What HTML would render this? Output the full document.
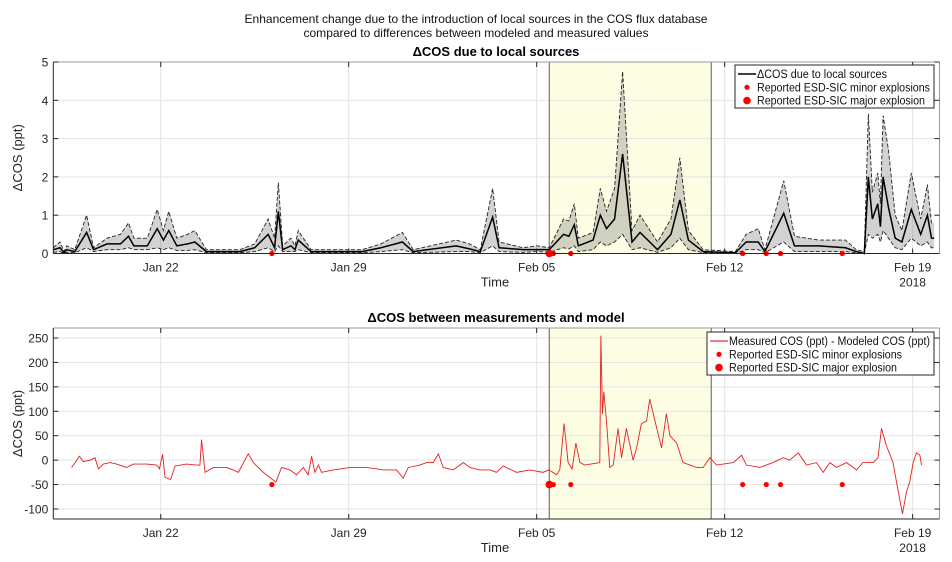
<!DOCTYPE html>
<html><head><meta charset="utf-8">
<style>
html,body{margin:0;padding:0;background:#fff;}
svg{display:block;font-family:"Liberation Sans",Arial,sans-serif;}
</style></head>
<body>
<svg id="chart" width="952" height="562" viewBox="0 0 952 562">
<text x="476" y="23" text-anchor="middle" font-size="12" textLength="463" lengthAdjust="spacingAndGlyphs" fill="#111">Enhancement change due to the introduction of local sources in the COS flux database</text>
<text x="476" y="37" text-anchor="middle" font-size="12" textLength="345" lengthAdjust="spacingAndGlyphs" fill="#111">compared to differences between modeled and measured values</text>
<g id="top"></g>
<g id="bot"></g>
</svg>
<script>
// ---- shared data ----
const xTickDays = [4, 11, 18, 25, 32];
const xTickLabels = ["Jan 22", "Jan 29", "Feb 05", "Feb 12", "Feb 19"];
const highlightSpan = [18.47, 24.5];
const minorDays = [8.14, 18.55, 18.62, 19.27, 25.67, 26.55, 27.08, 29.38];
const majorDays = [18.47];

// ---- top chart data ----
const topDays = [0,0.25,0.4,0.5,0.8,1.24,1.5,2.0,2.5,2.8,3.0,3.5,3.87,4.1,4.3,4.6,5.0,5.27,5.7,6.95,7.5,8.0,8.24,8.38,8.54,8.85,9.0,9.12,9.6,11.5,12.2,13.0,13.4,15.0,15.5,15.9,16.36,16.6,17.5,18.0,18.47,19.0,19.2,19.4,19.55,20.1,20.37,20.6,20.9,21.2,21.55,21.85,22.5,23.0,23.33,23.65,24.2,25.4,25.8,26.25,26.5,27.2,27.6,28.5,29.5,29.9,30.2,30.35,30.5,30.7,30.8,30.9,31.1,31.35,31.6,31.95,32.3,32.55,32.7,32.8];
const topMean = [0.1,0.15,0.02,0.1,0.05,0.55,0.1,0.25,0.25,0.45,0.2,0.2,0.65,0.35,0.6,0.2,0.25,0.3,0.05,0.05,0.15,0.5,0.15,1.1,0.1,0.2,0.1,0.35,0.05,0.05,0.15,0.3,0.05,0.2,0.12,0.05,0.95,0.15,0.1,0.1,0.1,0.5,0.45,0.75,0.2,0.35,1.0,0.65,0.9,2.6,0.3,0.55,0.1,0.5,1.4,0.35,0.05,0.02,0.3,0.3,0.05,1.05,0.2,0.2,0.15,0.05,0.0,2.0,0.9,1.3,0.7,2.0,1.2,0.4,0.3,1.15,0.5,1.0,0.4,0.4];
const topUpper = [0.15,0.3,0.05,0.2,0.1,1.0,0.15,0.4,0.5,0.8,0.4,0.4,1.15,0.6,1.1,0.4,0.5,0.6,0.1,0.1,0.25,0.9,0.4,1.85,0.2,0.4,0.2,0.6,0.1,0.1,0.25,0.55,0.1,0.35,0.25,0.1,1.7,0.3,0.15,0.2,0.15,0.9,0.85,1.3,0.4,0.55,1.7,1.1,1.7,4.75,0.6,1.0,0.3,0.9,2.5,0.6,0.1,0.05,0.5,0.65,0.1,1.9,0.45,0.35,0.35,0.1,0.05,3.65,1.6,2.1,1.3,3.6,2.7,1.0,0.6,2.1,0.9,1.8,0.8,0.8];
const topLower = [0.03,0.05,0,0.03,0.02,0.15,0.05,0.1,0.1,0.15,0.1,0.1,0.15,0.1,0.15,0.08,0.08,0.1,0.02,0.02,0.05,0.15,0.05,0.2,0.05,0.05,0.05,0.1,0.02,0.02,0.05,0.1,0.02,0.05,0.05,0.02,0.2,0.05,0.03,0.05,0.03,0.15,0.12,0.2,0.05,0.1,0.3,0.2,0.3,0.5,0.1,0.15,0.03,0.15,0.4,0.1,0.02,0,0.1,0.1,0.02,0.3,0.05,0.05,0.05,0.02,0,0.5,0.4,0.5,0.3,0.6,0.4,0.15,0.1,0.4,0.2,0.3,0.15,0.15];
const topYTicks = [0,1,2,3,4,5];

// ---- bottom chart data ----
const botDays = [0.68,0.81,0.97,1.12,1.37,1.55,1.68,1.86,2.11,2.36,2.73,2.98,3.48,3.85,3.95,4.07,4.16,4.37,4.53,4.96,5.34,5.46,5.52,5.65,5.96,6.45,6.70,6.89,7.26,7.45,7.82,8.29,8.50,8.81,9.06,9.31,9.49,9.62,9.74,9.87,9.99,10.43,11.05,11.67,12.29,12.78,13.03,13.22,13.65,13.90,14.15,14.34,14.52,14.89,15.27,15.51,15.88,16.26,16.50,16.75,17.25,17.74,18.24,18.46,18.74,18.86,19.02,19.17,19.32,19.46,19.61,19.79,20.35,20.39,20.45,20.50,20.60,20.72,20.85,21.03,21.16,21.34,21.59,21.72,21.90,22.09,22.21,22.34,22.65,22.83,22.96,23.21,23.45,23.95,24.20,24.45,24.70,25.32,25.63,25.81,26.31,26.80,27.18,27.42,27.74,28.05,28.42,28.67,28.92,29.16,29.54,29.91,30.15,30.53,30.71,30.84,31.02,31.27,31.40,31.62,31.77,31.89,32.02,32.14,32.27,32.33];
const botDiff = [-15,-5,8,-3,0,5,-18,-8,-5,-8,-15,-8,-8,-10,-18,12,-35,-40,-12,-8,-10,-10,42,-25,-15,-15,-20,-25,13,-5,-25,-45,-15,-20,-30,-15,-30,8,-25,-10,-25,-20,-15,-15,-20,-20,-37,-15,-10,-5,-5,13,-15,-20,-5,-15,-20,-20,-25,-12,-25,-20,-25,-20,-30,-20,75,-5,-18,35,-5,-10,-5,255,95,140,80,-15,-10,65,5,65,0,25,75,80,125,95,25,95,50,35,-5,-15,-15,5,-10,-5,10,-10,-15,-5,5,0,15,-10,-5,-25,-5,-15,-5,-20,-5,-5,5,65,30,-5,-45,-110,-65,-45,-5,15,10,-10];
const botYTicks = [-100,-50,0,50,100,150,200,250];
const markerLevelBot = -50;

const NS = "http://www.w3.org/2000/svg";
function mk(parent, tag, attrs) {
  const e = document.createElementNS(NS, tag);
  for (const k in attrs) e.setAttribute(k, attrs[k]);
  parent.appendChild(e);
  return e;
}
const X0 = 53.3, X1 = 939.5, DMAX = 33;
const xs = d => X0 + d / DMAX * (X1 - X0);

function axes(g, cfg) {
  const {top, bottom, ymin, ymax, yticks} = cfg;
  const ys = v => bottom - (v - ymin) / (ymax - ymin) * (bottom - top);
  const hl = mk(g, "rect", {x: xs(highlightSpan[0]), y: top, width: xs(highlightSpan[1]) - xs(highlightSpan[0]), height: bottom - top, fill: "#fdfde3"});
  
  
  yticks.forEach(v => {
    const l = mk(g, "line", {x1: X0, x2: X1, y1: ys(v), y2: ys(v), stroke: "#e3e3e3", "stroke-width": 1});
    
    
  });
  xTickDays.forEach(d => {
    const l = mk(g, "line", {x1: xs(d), x2: xs(d), y1: top, y2: bottom, stroke: "#e3e3e3", "stroke-width": 1});
    
    
  });
  highlightSpan.forEach(d => {
    const l = mk(g, "line", {x1: xs(d), x2: xs(d), y1: top, y2: bottom, stroke: "#777", "stroke-width": 1.2});
    
    
  });
  return ys;
}
function frame(g, cfg, ys) {
  const {top, bottom, yticks, title, titleY} = cfg;
  mk(g, "line", {x1: X0, x2: X1, y1: top, y2: top, stroke: "#999", "stroke-width": 1});
  mk(g, "line", {x1: X1, x2: X1, y1: top, y2: bottom, stroke: "#999", "stroke-width": 1});
  mk(g, "line", {x1: X0, x2: X0, y1: top, y2: bottom, stroke: "#262626", "stroke-width": 1});
  mk(g, "line", {x1: X0, x2: X1, y1: bottom, y2: bottom, stroke: "#262626", "stroke-width": 1});
  yticks.forEach(v => {
    mk(g, "line", {x1: X0, x2: X0 + 5, y1: ys(v), y2: ys(v), stroke: "#262626"});
    mk(g, "line", {x1: X1, x2: X1 - 5, y1: ys(v), y2: ys(v), stroke: "#262626"});
    const t = mk(g, "text", {x: X0 - 5, y: ys(v) + 4.5, "text-anchor": "end", "font-size": 12, fill: "#262626"});
    t.textContent = v;
    
    
  });
  xTickDays.forEach((d, i) => {
    mk(g, "line", {x1: xs(d), x2: xs(d), y1: bottom, y2: bottom - 5, stroke: "#262626"});
    mk(g, "line", {x1: xs(d), x2: xs(d), y1: top, y2: top + 5, stroke: "#262626"});
    const t = mk(g, "text", {x: xs(d), y: bottom + 18, "text-anchor": "middle", "font-size": 12, fill: "#262626"});
    t.textContent = xTickLabels[i];
    
    
  });
  const yr = mk(g, "text", {x: xs(32), y: bottom + 33, "text-anchor": "middle", "font-size": 12, fill: "#262626"});
  yr.textContent = "2018";
  
  
  const xt = mk(g, "text", {x: 495, y: bottom + 33, "text-anchor": "middle", "font-size": 13, fill: "#262626"});
  xt.textContent = "Time";
  
  
  const yc = (top + bottom) / 2;
  const yt = mk(g, "text", {x: 22, y: yc, "text-anchor": "middle", "font-size": 13, fill: "#262626", transform: `rotate(-90 22 ${yc})`});
  yt.textContent = "ΔCOS (ppt)";
  
  
  const tt = mk(g, "text", {x: 496, y: titleY, "text-anchor": "middle", "font-size": 13, "font-weight": "bold", fill: "#000"});
  tt.textContent = title;
  
  
}
function legend(g, x, y, w, entries) {
  const box = mk(g, "rect", {x: x, y: y, width: w, height: 43, fill: "#fff", stroke: "#262626", "stroke-width": 1});
  
  
  entries.forEach((e, i) => {
    const cy = y + 9 + i * 13.3;
    if (e.type === "line") mk(g, "line", {x1: x + 3, x2: x + 21, y1: cy, y2: cy, stroke: e.color, "stroke-width": e.w});
    else mk(g, "circle", {cx: x + 12, cy: cy, r: e.r, fill: "#f00"});
    const t = mk(g, "text", {x: x + 22, y: cy + 4, "font-size": 11.5, fill: "#111", textLength: e.len, lengthAdjust: "spacingAndGlyphs"});
    t.textContent = e.label;
    
    
  });
}
function markers(g, ys, level) {
  minorDays.forEach(d => {
    const c = mk(g, "circle", {cx: xs(d), cy: ys(level), r: 2.6, fill: "#f00"});
    
    
  });
  majorDays.forEach(d => {
    const c = mk(g, "circle", {cx: xs(d), cy: ys(level), r: 3.8, fill: "#f00"});
    
    
  });
}

// ---- top chart ----
const gt = document.getElementById("top");
const topCfg = {top: 62, bottom: 253.5, ymin: 0, ymax: 5, yticks: topYTicks, title: "ΔCOS due to local sources", titleY: 56};
const yT = axes(gt, topCfg);
let band = "M" + topDays.map((d, i) => xs(d) + "," + yT(topUpper[i])).join(" L");
for (let i = topDays.length - 1; i >= 0; i--) band += " L" + xs(topDays[i]) + "," + yT(topLower[i]);
const bp = mk(gt, "path", {d: band + " Z", fill: "#7f7f7f", "fill-opacity": 0.35, stroke: "none"});


[topUpper, topLower].forEach(arr => {
  const p = mk(gt, "path", {d: "M" + topDays.map((d, i) => xs(d) + "," + yT(arr[i])).join(" L"), fill: "none", stroke: "#222", "stroke-width": 0.9, "stroke-dasharray": "4,2"});
  
  
});
const mp = mk(gt, "path", {d: "M" + topDays.map((d, i) => xs(d) + "," + yT(topMean[i])).join(" L"), fill: "none", stroke: "#000", "stroke-width": 1.5});


markers(gt, yT, 0);
frame(gt, topCfg, yT);
legend(gt, 735, 65, 199, [
  {type: "line", color: "#000", w: 1.5, label: "ΔCOS due to local sources", len: 130},
  {type: "dot", r: 2.6, label: "Reported ESD-SIC minor explosions", len: 173},
  {type: "dot", r: 3.8, label: "Reported ESD-SIC major explosion", len: 168}]);

// ---- bottom chart ----
const gb = document.getElementById("bot");
const botCfg = {top: 328, bottom: 519, ymin: -120.5, ymax: 270.5, yticks: botYTicks, title: "ΔCOS between measurements and model", titleY: 322};
const yB = axes(gb, botCfg);
const rp = mk(gb, "path", {d: "M" + botDays.map((d, i) => xs(d) + "," + yB(botDiff[i])).join(" L"), fill: "none", stroke: "#e32222", "stroke-width": 0.9});


markers(gb, yB, markerLevelBot);
frame(gb, botCfg, yB);
legend(gb, 707, 332, 227, [
  {type: "line", color: "#d00", w: 1, label: "Measured COS (ppt) - Modeled COS (ppt)", len: 201},
  {type: "dot", r: 2.6, label: "Reported ESD-SIC minor explosions", len: 173},
  {type: "dot", r: 3.8, label: "Reported ESD-SIC major explosion", len: 168}]);
</script>
</body></html>
